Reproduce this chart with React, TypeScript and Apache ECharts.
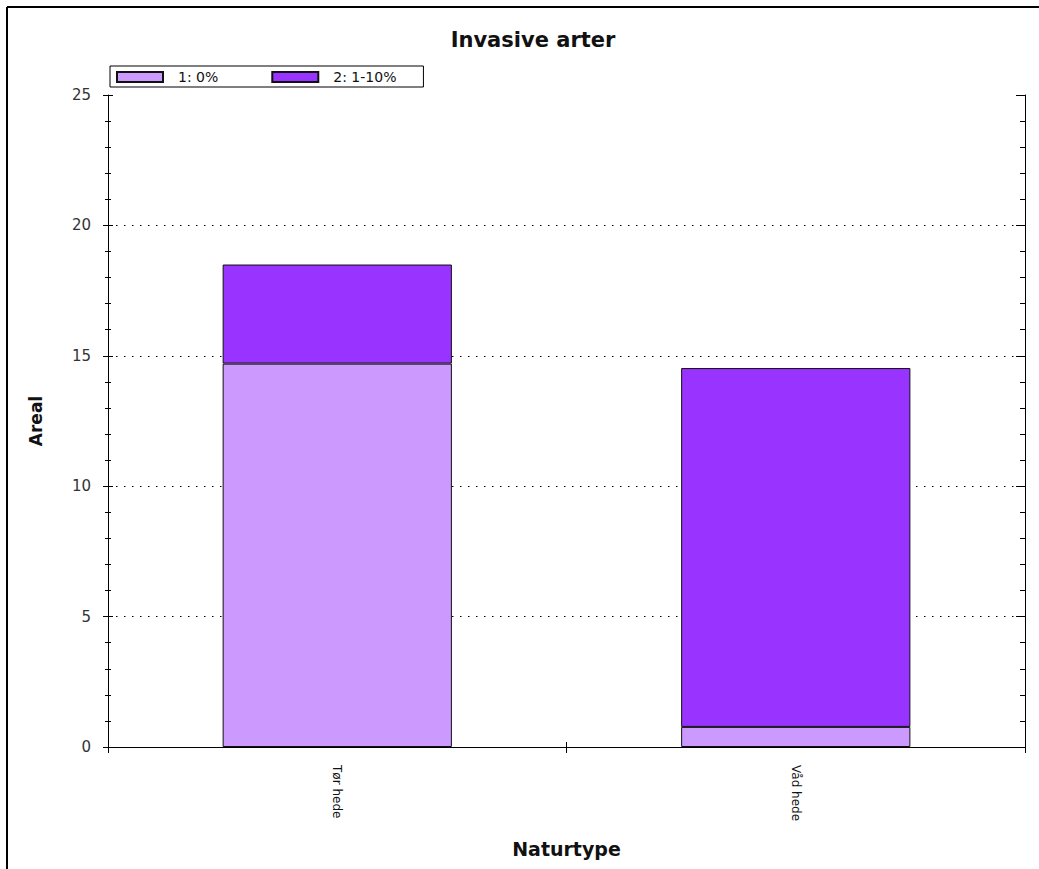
import React, { useEffect, useRef } from "react";
import * as echarts from "echarts";

const categories = ["Tør hede", "Våd hede"];
const seriesNames = ["1: 0%", "2: 1-10%"];
const values0 = [14.7, 0.77];
const values1 = [3.8, 13.76];
const colors = ["#CC99FF", "#9933FF"];

const FONT = "DejaVu Sans";

export default function App() {
  const ref = useRef<HTMLDivElement>(null);
  useEffect(() => {
    if (!ref.current) return;
    const chart = echarts.init(ref.current, null, { renderer: "svg" });
    const axisLine = { show: true, lineStyle: { color: "#000", width: 1 } };
    const yBase = { type: "value", min: 0, max: 25, interval: 5 };
    chart.setOption({
      animation: false,
      backgroundColor: "#fff",
      title: {
        text: "Invasive arter",
        left: 528,
        textAlign: "center",
        top: 24,
        textStyle: { fontFamily: FONT, fontSize: 21, fontWeight: "bold", color: "#111" },
      },
      legend: {
        left: 110,
        top: 66,
        orient: "horizontal",
        padding: [4, 27, 3, 6],
        borderColor: "#000",
        borderWidth: 1,
        itemWidth: 46,
        itemHeight: 10,
        itemGap: 53,
        icon: "rect",
        data: seriesNames,
        textStyle: { fontFamily: FONT, fontSize: 14, color: "#111", padding: [0, 0, 0, 10] },
      },
      graphic: [
        { type: "line", shape: { x1: 7, y1: 7, x2: 1039, y2: 7 }, style: { stroke: "#000", lineWidth: 2 } },
        { type: "line", shape: { x1: 7, y1: 7, x2: 7, y2: 869 }, style: { stroke: "#000", lineWidth: 2 } },
      ],
      grid: { left: 108, right: 14, top: 95, bottom: 122, containLabel: false },
      xAxis: [
        {
          type: "category",
          data: categories,
          position: "bottom",
          axisLine,
          axisTick: { show: true, inside: false, length: 6, lineStyle: { color: "#000" } },
          axisLabel: {
            rotate: -90,
            margin: 18,
            fontFamily: FONT,
            fontSize: 12,
            color: "#111",
          },
          name: "Naturtype",
          nameLocation: "middle",
          nameGap: 92,
          nameTextStyle: { fontFamily: FONT, fontSize: 19, fontWeight: "bold", color: "#111" },
          splitLine: { show: false },
        },
        {
          type: "category",
          data: categories,
          position: "bottom",
          axisLine: { show: false },
          axisTick: { show: true, inside: true, length: 5, lineStyle: { color: "#000" } },
          axisLabel: { show: false },
          splitLine: { show: false },
        },
        {
          type: "category",
          data: categories,
          position: "top",
          axisLine,
          axisTick: { show: true, inside: true, length: 6, lineStyle: { color: "#000" } },
          axisLabel: { show: false },
          splitLine: { show: false },
        },
      ],
      yAxis: [
        {
          ...yBase,
          position: "left",
          axisLine,
          axisTick: { show: true, inside: false, length: 5, lineStyle: { color: "#000" } },
          minorTick: { show: true, splitNumber: 5, length: 3, lineStyle: { color: "#000" } },
          axisLabel: { margin: 17, fontFamily: FONT, fontSize: 15, color: "#333" },
          splitLine: {
            show: true,
            showMinLine: false,
            showMaxLine: false,
            lineStyle: { color: "#000", type: [1.5, 6.5], width: 1 },
          },
          name: "Areal",
          nameLocation: "middle",
          nameGap: 64,
          nameRotate: 90,
          nameTextStyle: { fontFamily: FONT, fontSize: 17, fontWeight: "bold", color: "#111" },
        },
        {
          ...yBase,
          position: "left",
          axisLine: { show: false },
          axisTick: { show: true, inside: true, length: 5, lineStyle: { color: "#000" } },
          minorTick: { show: true, splitNumber: 5, length: 3, lineStyle: { color: "#000" } },
          axisLabel: { show: false },
          splitLine: { show: false },
        },
        {
          ...yBase,
          position: "right",
          axisLine,
          axisTick: { show: true, inside: true, length: 9, lineStyle: { color: "#000" } },
          minorTick: { show: true, splitNumber: 5, length: 5, lineStyle: { color: "#000" } },
          axisLabel: { show: false },
          splitLine: { show: false },
        },
      ],
      series: [
        {
          name: seriesNames[0],
          type: "bar",
          stack: "total",
          barWidth: "50%",
          data: values0,
          itemStyle: { color: colors[0], borderColor: "#111", borderWidth: 1 },
        },
        {
          name: seriesNames[1],
          type: "bar",
          stack: "total",
          barWidth: "50%",
          data: values1,
          itemStyle: { color: colors[1], borderColor: "#111", borderWidth: 1 },
        },
      ],
    });
    return () => chart.dispose();
  }, []);
  return (
    <div
      ref={ref}
      style={{ position: "fixed", left: 0, top: 0, width: 1039, height: 869, background: "#fff" }}
    />
  );
}
